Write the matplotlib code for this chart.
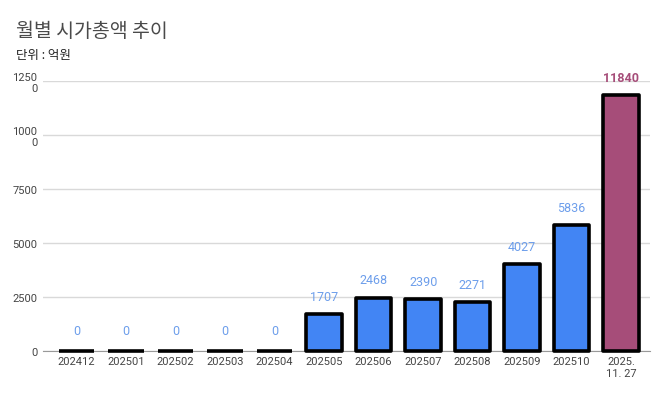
import matplotlib
matplotlib.use("Agg")
import matplotlib.pyplot as plt

plt.rcParams['font.family'] = ['Noto Sans CJK KR', 'DejaVu Sans']

categories = ["202412", "202501", "202502", "202503", "202504", "202505",
              "202506", "202507", "202508", "202509", "202510", "2025.\n11. 27"]
values = [0, 0, 0, 0, 0, 1707, 2468, 2390, 2271, 4027, 5836, 11840]
ytick_vals = [0, 2500, 5000, 7500, 10000, 12500]
ytick_labels = ["0", "2500", "5000", "7500", "1000\n0", "1250\n0"]

blue = "#4285F4"
purple = "#A64D79"
colors = [blue] * (len(values) - 1) + [purple]

fig = plt.figure(figsize=(6.7, 4.14), dpi=100)
ax = fig.add_axes([0.064, 0.150, 0.906, 0.652])

x = list(range(len(values)))
bars = ax.bar(x, values, width=0.72, color=colors, edgecolor="black", linewidth=2.6,
              joinstyle="round", zorder=5)
for b in bars:
    b.set_clip_on(False)

for i, v in enumerate(values):
    last = i == len(values) - 1
    ax.annotate(str(v), (i, v), xytext=(0, 8 if v > 0 else 10), textcoords="offset points",
                ha="center", va="bottom", fontsize=9,
                color=purple if last else "#6D9EEB",
                fontweight="bold" if last else "normal",
                family=["Roboto", "DejaVu Sans"])

ax.set_xlim(-0.68, len(values) - 0.42)
ax.set_ylim(0, 12500)
ax.set_yticks(ytick_vals)
ax.set_yticklabels(ytick_labels, fontsize=8, color="#444444",
                   family=["Roboto", "DejaVu Sans"], linespacing=1.1,
                   multialignment="right")
ax.set_xticks(x)
ax.set_xticklabels(categories, fontsize=8, color="#444444",
                   family=["Roboto", "DejaVu Sans"], linespacing=1.2)
ax.tick_params(axis="both", length=0, pad=4)
ax.grid(axis="y", color="#D9D9D9", linewidth=1, zorder=0)
for s in ["top", "right", "left"]:
    ax.spines[s].set_visible(False)
ax.spines["bottom"].set_color("#999999")
ax.spines["bottom"].set_zorder(4)

fig.text(0.024, 0.925, "월별 시가총액 추이", fontsize=14, color="#4a4a4a",
         ha="left", va="center")
fig.text(0.024, 0.865, "단위 : 억원", fontsize=9, color="#222222",
         ha="left", va="center")

fig.savefig("out.png", dpi=100)
